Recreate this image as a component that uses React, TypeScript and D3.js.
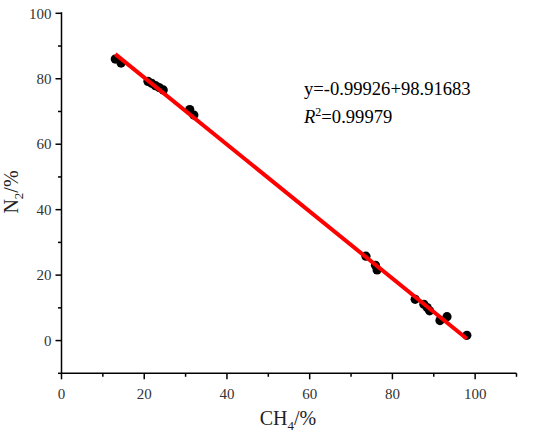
import { extent, line, mean, scaleLinear } from 'd3';

// CH4 vs N2 content with a linear fit, drawn as plain SVG via JSX.

const ch4 = [13.0, 14.4, 20.9, 21.8, 22.7, 23.6, 24.6, 31.0, 32.0, 73.6, 75.9, 76.3, 85.5, 87.6, 88.4, 89.0, 91.5, 93.2, 98.0];
const n2 = [86.0, 84.8, 79.2, 78.6, 77.9, 77.3, 76.6, 70.6, 68.9, 25.8, 23.0, 21.6, 12.6, 11.1, 10.1, 9.1, 6.1, 7.3, 1.6];

const xMajor = [0, 20, 40, 60, 80, 100];
const xMinor = [10, 30, 50, 70, 90, 110];
const yMajor = [0, 20, 40, 60, 80, 100];
const yMinor = [-10, 10, 30, 50, 70, 90];

const equation = 'y=-0.99926+98.91683';
const r2Value = '=0.99979';

const FONT = '"Liberation Serif", "Times New Roman", serif';

export default function App() {
  const x = scaleLinear().domain([0, 110]).range([61.5, 516.5]);
  const y = scaleLinear().domain([-10, 100]).range([373.3, 13.3]);

  const pts = ch4.map((c, i) => ({ x: c, y: n2[i]! }));

  // least squares fit over the points
  const mx = mean(ch4)!;
  const my = mean(n2)!;
  const sxy = pts.reduce((s, p) => s + (p.x - mx) * (p.y - my), 0);
  const sxx = pts.reduce((s, p) => s + (p.x - mx) ** 2, 0);
  const slope = sxy / sxx;
  const icpt = my - slope * mx;
  const [x0, x1] = extent(ch4) as [number, number];
  const fit = line<number>().x((v) => x(v)).y((v) => y(icpt + slope * v));

  const axisY = y(-10);
  const axisX = x(0);

  return (
    <svg width={550} height={436} style={{ position: 'absolute', left: 0, top: 0, background: '#fff' }} fontFamily={FONT}>
      {pts.map((p, i) => (
        <circle key={i} cx={x(p.x)} cy={y(p.y)} r={4.6} fill="#000" />
      ))}
      <path d={fit([x0, x1]) ?? undefined} stroke="#ff0000" strokeWidth={4} fill="none" />

      {/* axes */}
      <line x1={axisX} x2={x(110)} y1={axisY} y2={axisY} stroke="#000" strokeWidth={1.5} />
      <line x1={axisX} x2={axisX} y1={axisY} y2={y(100) - 1} stroke="#000" strokeWidth={1.5} />
      {xMajor.map((t) => (
        <g key={t}>
          <line x1={x(t)} x2={x(t)} y1={axisY} y2={axisY + 6} stroke="#000" strokeWidth={1.5} />
          <text x={x(t)} y={399} textAnchor="middle" fontSize={15} fill="#333">
            {t}
          </text>
        </g>
      ))}
      {xMinor.map((t) => (
        <line key={t} x1={x(t)} x2={x(t)} y1={axisY} y2={axisY + 3.5} stroke="#000" strokeWidth={1.5} />
      ))}
      {yMajor.map((t) => (
        <g key={t}>
          <line x1={axisX - 6} x2={axisX} y1={y(t)} y2={y(t)} stroke="#000" strokeWidth={1.5} />
          <text x={axisX - 10} y={y(t)} dy="0.35em" textAnchor="end" fontSize={15} fill="#333">
            {t}
          </text>
        </g>
      ))}
      {yMinor.map((t) => (
        <line key={t} x1={axisX - 3.5} x2={axisX} y1={y(t)} y2={y(t)} stroke="#000" strokeWidth={1.5} />
      ))}

      {/* axis titles */}
      <text x={288} y={425} textAnchor="middle" fontSize={20} fill="#222">
        CH<tspan fontSize={13} dy={5}>4</tspan>
        <tspan dy={-5}>/%</tspan>
      </text>
      <text transform="translate(18,192) rotate(-90)" textAnchor="middle" fontSize={20} fill="#222">
        N<tspan fontSize={13} dy={5}>2</tspan>
        <tspan dy={-5}>/%</tspan>
      </text>

      {/* fit annotation */}
      <text x={304} y={95} fontSize={18.6} fill="#000">
        {equation}
      </text>
      <text x={304} y={123} fontSize={18.6} fill="#000">
        <tspan fontStyle="italic">R</tspan>
        <tspan fontSize={12} dy={-7}>2</tspan>
        <tspan dy={7}>{r2Value}</tspan>
      </text>
    </svg>
  );
}
